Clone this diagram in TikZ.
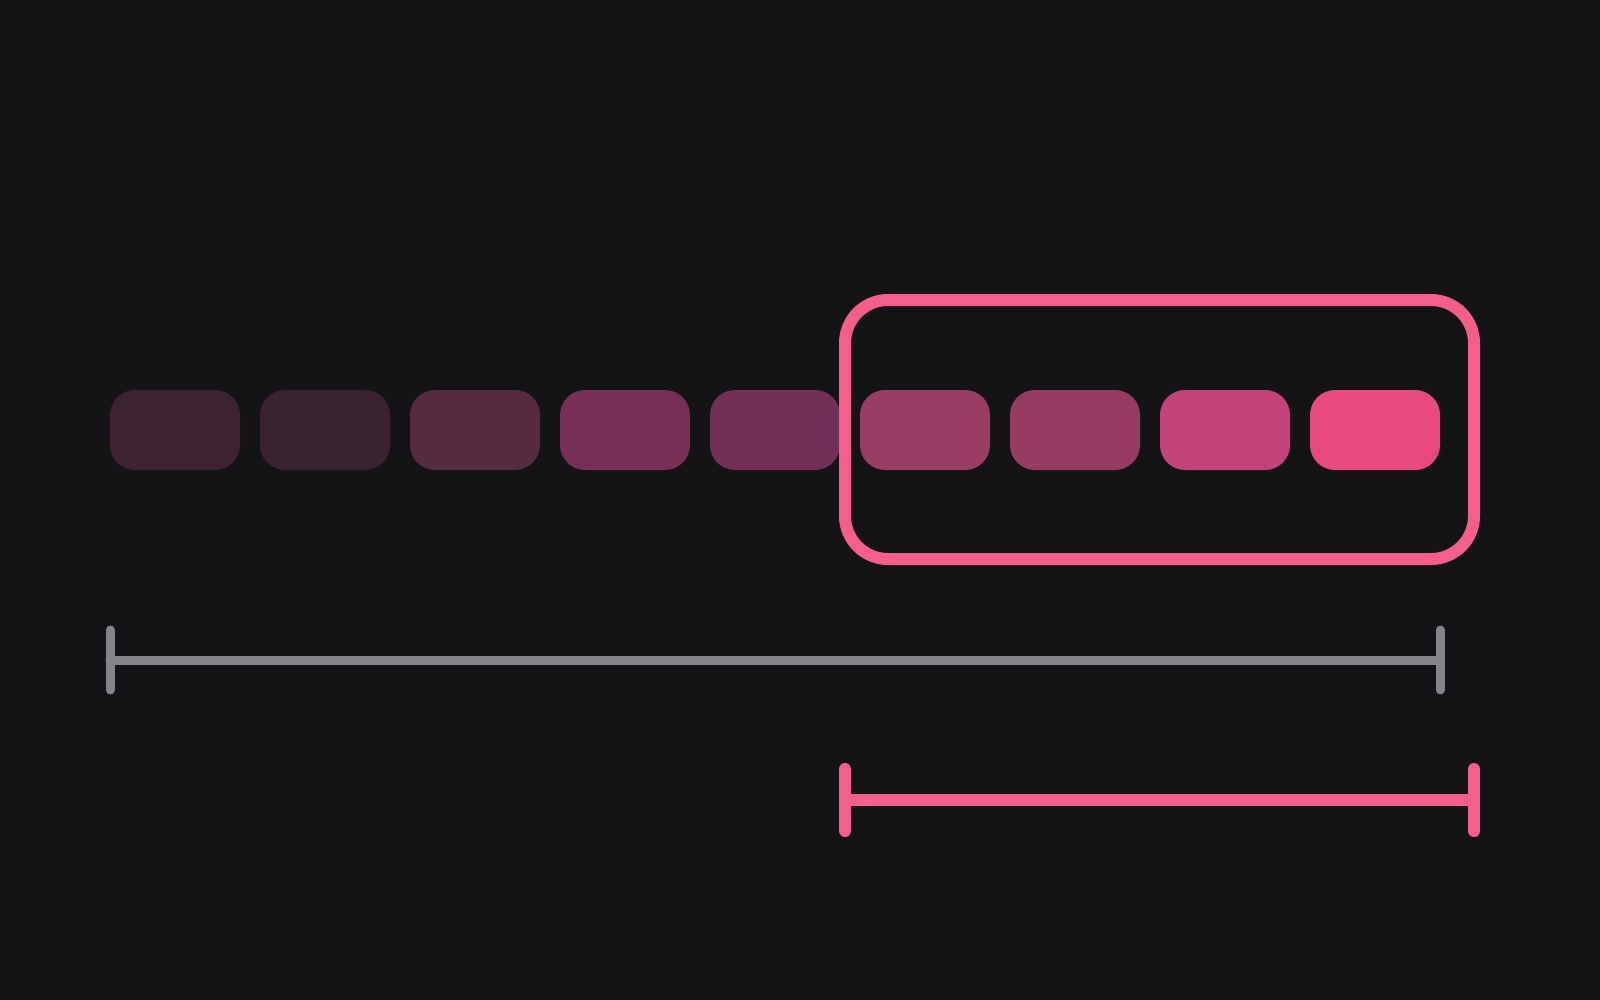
\documentclass[tikz,border=0pt]{standalone}
\definecolor{bg}{HTML}{141416}
\definecolor{c1}{HTML}{3D2331}
\definecolor{c2}{HTML}{3B2231}
\definecolor{c3}{HTML}{552B40}
\definecolor{c4}{HTML}{772F56}
\definecolor{c5}{HTML}{742F55}
\definecolor{c6}{HTML}{993D65}
\definecolor{c7}{HTML}{963C63}
\definecolor{c8}{HTML}{C2447B}
\definecolor{c9}{HTML}{E84A80}
\definecolor{pinkline}{HTML}{F45E8B}
\definecolor{grayline}{HTML}{86838B}
\begin{document}
\begin{tikzpicture}[x=1pt,y=-1pt,
  cell/.style={rectangle, rounded corners=25pt, minimum width=130pt, minimum height=80pt, inner sep=0pt, outer sep=0pt},
  framebox/.style={rectangle, draw=pinkline, line width=12pt, rounded corners=43pt, minimum width=629pt, minimum height=259pt, inner sep=0pt},
  graybar/.style={draw=grayline, line width=9pt, line cap=round},
  pinkbar/.style={draw=pinkline, line width=12pt, line cap=round}]
\fill[bg] (0,0) rectangle (1600,1000);
\useasboundingbox (0,0) rectangle (1600,1000);
\node[cell, fill=c1] (b1) at (175,430) {};
\node[cell, fill=c2] (b2) at (325,430) {};
\node[cell, fill=c3] (b3) at (475,430) {};
\node[cell, fill=c4] (b4) at (625,430) {};
\node[cell, fill=c5] (b5) at (775,430) {};
\node[cell, fill=c6] (b6) at (925,430) {};
\node[cell, fill=c7] (b7) at (1075,430) {};
\node[cell, fill=c8] (b8) at (1225,430) {};
\node[cell, fill=c9] (b9) at (1375,430) {};
\node[framebox] (frame) at (1159.5,429.5) {};
% gray span
\coordinate (g1) at (110,660);
\coordinate (g2) at (1440,660);
\draw[graybar] (g1) -- (g2);
\draw[graybar] ([yshift=30pt]g1) -- ([yshift=-30pt]g1);
\draw[graybar] ([yshift=30pt]g2) -- ([yshift=-30pt]g2);
% pink span
\coordinate (p1) at (845,800);
\coordinate (p2) at (1474,800);
\draw[pinkbar] (p1) -- (p2);
\draw[pinkbar] ([yshift=31pt]p1) -- ([yshift=-31pt]p1);
\draw[pinkbar] ([yshift=31pt]p2) -- ([yshift=-31pt]p2);
\end{tikzpicture}
\end{document}
